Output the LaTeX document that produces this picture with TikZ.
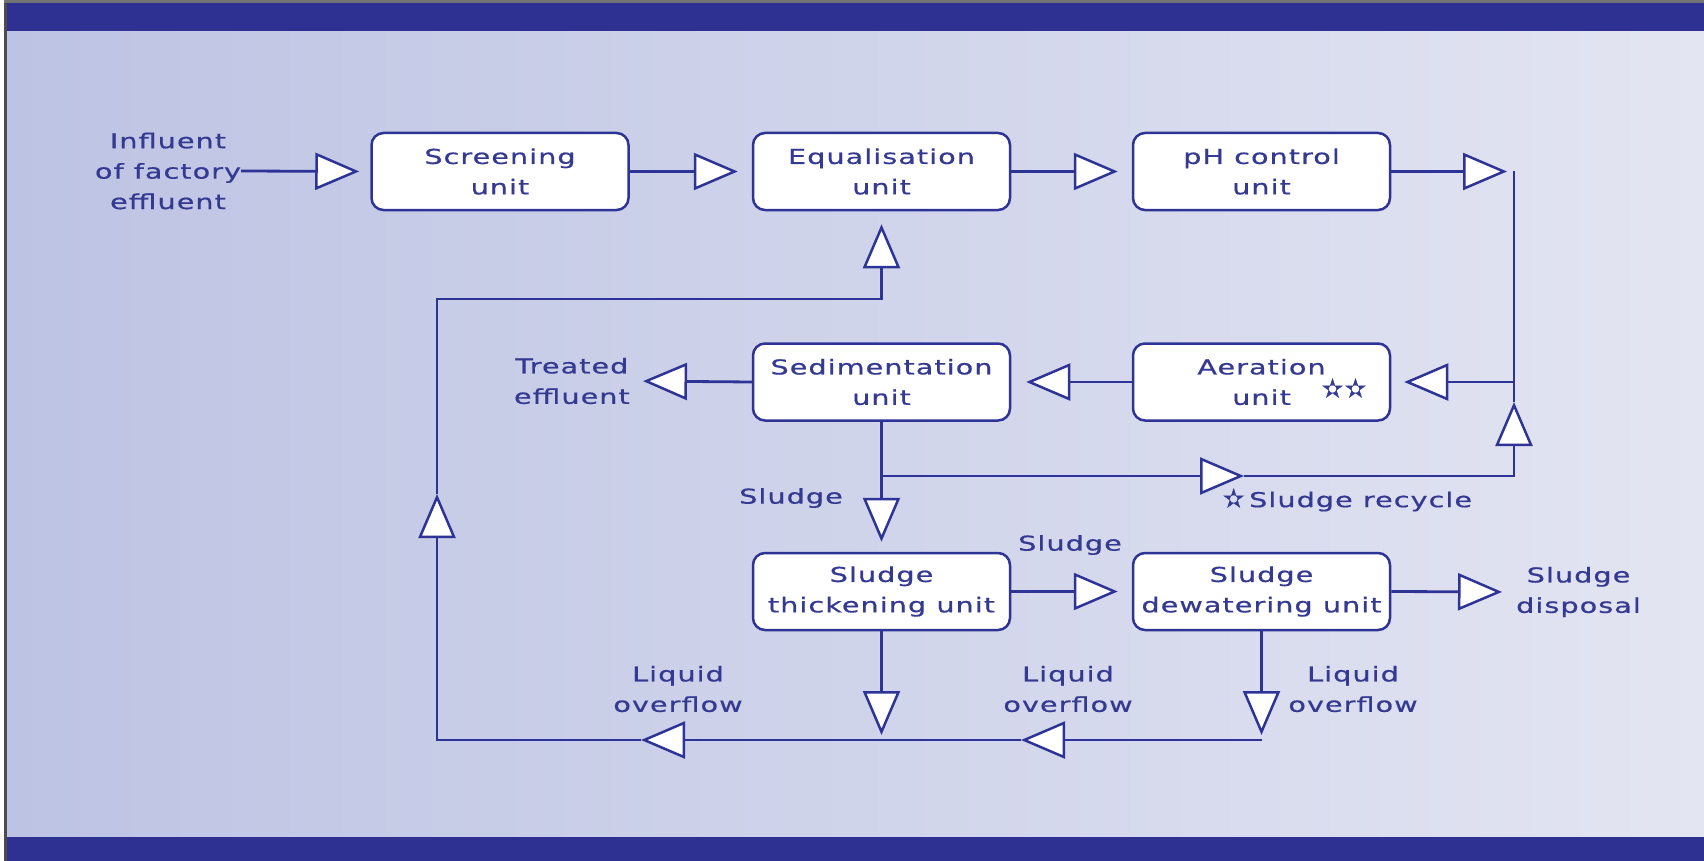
\documentclass[tikz,border=0pt]{standalone}
\usepackage{fontspec}
\setmainfont{DejaVu Sans}[FakeStretch=1.4, LetterSpace=5, FakeBold=0.6]
\newfontfamily\symfont{DejaVu Sans}[FakeBold=1.5]
\usetikzlibrary{arrows.meta}
\definecolor{navy}{RGB}{46,49,146}
\definecolor{linecol}{RGB}{45,52,150}
\definecolor{txtcol}{RGB}{52,57,145}
\definecolor{bgL}{RGB}{189,195,227}
\definecolor{bgR}{RGB}{227,229,242}
\tikzset{
  unitbox/.style={draw=linecol, line width=2.5pt, fill=white, rounded corners=12pt,
    minimum width=257pt, minimum height=77pt, align=center, text=txtcol, inner sep=0pt},
  flow/.style={draw=linecol, line width=2.8pt},
  tri/.style={-{Triangle[fill=white, length=44pt, width=37pt, line width=2.5pt]}},
  lbl/.style={text=txtcol, align=center, inner sep=0pt},
  every node/.style={font=\fontsize{20.5}{30.4}\selectfont}
}
\begin{document}
\begin{tikzpicture}[x=1pt,y=-1pt]
\useasboundingbox (0,0) rectangle (1704,861);
% frame and background
\fill[white] (0,0) rectangle (1704,861);
\shade[left color=bgL, right color=bgR] (6,30) rectangle (1704,838);
\fill[navy] (6,3) rectangle (1704,31);
\fill[navy] (6,837) rectangle (1704,861);
\fill[black!70] (4,0) rectangle (7,861);
\fill[black!55] (4,0) rectangle (1704,3);

% unit boxes
\node[unitbox] (scr) at (500,171.5) {Screening\\unit};
\node[unitbox] (equ) at (881.5,171.5) {Equalisation\\unit};
\node[unitbox] (ph)  at (1261.5,171.5) {pH control\\unit};
\node[unitbox] (sed) at (881.5,382) {Sedimentation\\unit};
\node[unitbox] (aer) at (1261.5,382) {Aeration\\unit};
\node[unitbox] (thk) at (881.5,591.5) {Sludge\\thickening unit};
\node[unitbox] (dew) at (1261.5,591.5) {Sludge\\dewatering unit};

% text labels
\node[lbl] (infl) at (168,171) {Influent\\of factory\\effluent};
\node[lbl, anchor=east] (teff) at (630,381) {Treated\\effluent};
\node[lbl, anchor=west] (sdisp) at (1516,592) {Sludge\\disposal};
\node[lbl, anchor=east] (lsl1) at (843,498) {Sludge};
\node[lbl] (lsl2) at (1070,545) {Sludge};
\node[lbl, anchor=west] (lrec) at (1223,500) {{\symfont\fontsize{25}{25}\selectfont ✫}\hspace{5pt}Sludge recycle};
\node[lbl] (star2) at (1344,388) {{\symfont\fontsize{25}{25}\selectfont ✫\hspace{2pt}✫}};
\node[lbl] (lo1) at (1353,689) {Liquid\\overflow};
\node[lbl] (lo2) at (1068,689) {Liquid\\overflow};
\node[lbl] (lo3) at (678,689) {Liquid\\overflow};

% coordinates
\coordinate (rt)  at (1514,171.5);
\coordinate (ra)  at (1514,382);
\coordinate (rup) at (1514,402);
\coordinate (rb)  at (1514,476);
\coordinate (sdj) at (881.5,476);
\coordinate (rc)  at (1244,476);
\coordinate (tb)  at (881.5,740);
\coordinate (db)  at (1261.5,740);
\coordinate (b1)  at (1021,740);
\coordinate (b2)  at (641,740);
\coordinate (lb)  at (437,740);
\coordinate (lu)  at (437,494);
\coordinate (lt)  at (437,299);
\coordinate (et)  at (881.5,299);

% main line
\draw[flow, tri, shorten >=11pt] (infl.east) -- (scr.west);
\draw[flow, tri, shorten >=14pt] (scr.east) -- (equ.west);
\draw[flow, tri, shorten >=14pt] (equ.east) -- (ph.west);
\draw[flow, tri, shorten >=7pt] (ph.east) -- (rt);
\draw[flow] (rt) -- (rup);
\draw[flow, tri, shorten >=13pt] (ra) -- (aer.east);
\draw[flow, tri, shorten >=15pt] (aer.west) -- (sed.east);
\draw[flow, tri, shorten >=13pt] (sed.west) -- (teff.east);
\draw[flow, tri, shorten >=10pt] (sed.south) -- (thk.north);
% recycle
\draw[flow, tri] (sdj) -- (rc);
\draw[flow, tri] (rc) -- (rb) -- (rup);
% sludge line
\draw[flow, tri, shorten >=14pt] (thk.east) -- (dew.west);
\draw[flow, tri, shorten >=14pt] (dew.east) -- (sdisp.west);
% liquid overflow
\draw[flow, tri, shorten >=5pt] (thk.south) -- (tb);
\draw[flow, tri, shorten >=5pt] (dew.south) -- (db);
\draw[flow, tri] (db) -- (b1);
\draw[flow, tri] (b1) -- (b2);
\draw[flow, tri] (b2) -- (lb) -- (lu);
\draw[flow, tri, shorten >=13pt] (lu) -- (lt) -- (et) -- (equ.south);
\end{tikzpicture}
\end{document}
